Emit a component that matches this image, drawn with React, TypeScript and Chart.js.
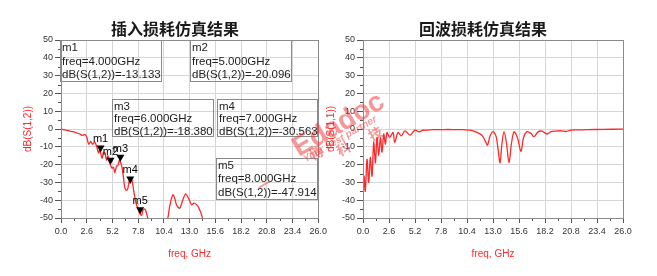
import React, { useEffect, useRef } from "react";
import { Chart, registerables } from "chart.js";

Chart.register(...registerables);

// ---------- data ----------
const freqS12 = [0, 0.5, 1.0, 1.5, 1.9, 2.2, 2.4, 2.6, 2.8, 3.0, 3.2, 3.4, 3.6, 3.8, 3.9, 4.0, 4.15, 4.3, 4.45, 4.6, 4.75, 4.9, 5.0, 5.15, 5.3, 5.45, 5.6, 5.75, 5.9, 6.0, 6.15, 6.3, 6.45, 6.6, 6.75, 6.9, 7.0, 7.15, 7.3, 7.45, 7.6, 7.8, 8.0, 8.15, 8.3, 8.5, 8.65, 8.8, 9.0, 9.5, 10.0, 10.5, 10.8, 11.0, 11.3, 11.5, 11.7, 12.0, 12.3, 12.6, 12.9, 13.2, 13.45, 13.7, 13.9, 14.1, 14.3, 14.5];
const dbS12 = [0, -0.6, -1.3, -2.0, -2.8, -3.6, -3.0, -4.5, -8.5, -7.0, -8.6, -7.2, -9.8, -13.5, -11.5, -13.133, -16.5, -13.0, -13.5, -17.5, -15.0, -18.5, -20.096, -22.0, -21.5, -24.5, -21.0, -20.5, -17.5, -18.38, -21.0, -26.5, -33.0, -34.5, -33.5, -29.0, -30.563, -28.5, -33.0, -38.0, -42.0, -45.0, -47.914, -48.5, -45.5, -45.0, -47.5, -50.5, -54, -60, -60, -56, -50, -43, -37, -39, -43, -44.5, -40, -36.4, -39, -42.6, -41.6, -42.5, -44, -46.5, -50, -54];

const freqS11 = [0, 0.1, 0.23, 0.4, 0.57, 0.73, 0.9, 1.07, 1.24, 1.4, 1.57, 1.74, 1.9, 2.07, 2.24, 2.4, 2.67, 3.0, 3.17, 3.5, 3.84, 4.2, 4.7, 5.2, 5.6, 6.0, 6.5, 7.0, 8.0, 9.0, 10.0, 10.5, 11.0, 11.5, 11.9, 12.2, 12.45, 12.7, 13.0, 13.3, 13.5, 13.7, 13.9, 14.1, 14.35, 14.6, 14.85, 15.1, 15.45, 15.8, 16.05, 16.4, 16.8, 17.1, 17.5, 17.9, 18.4, 18.8, 19.2, 19.8, 20.3, 20.8, 21.5, 22.5, 24.0, 26.0];
const dbS11 = [-44, -26.5, -35, -17, -30, -16, -26.5, -7.6, -19, -4.7, -15, -4.7, -13, -2.8, -8.5, -2, -4.7, -2, -7.6, -2, -3.8, -1, -3.4, -0.6, -1.6, -0.7, -0.6, -0.4, -0.3, -0.3, -0.4, -0.6, -1.0, -2.2, -3.5, -6.5, -9, -4, -1.5, -4, -11, -19, -8, -1.5, -8, -19, -8, -1.5, -5, -12.7, -5, -1.5, -2.5, -4.3, -1.6, -1.2, -2.8, -1.5, -1.2, -1.0, -1.4, -0.6, -0.5, -0.4, -0.2, -0.1];

const markerNames = ["m1", "m2", "m3", "m4", "m5"];
const markerFreqs = [4.0, 5.0, 6.0, 7.0, 8.0];
const markerDbs = [-13.133, -20.096, -18.38, -30.563, -47.914];

const xMin = 0;
const xMax = 26;
const xStep = 2.6;
const yMin = -50;
const yMax = 50;
const yStep = 10;

const leftTitle = "插入损耗仿真结果";
const rightTitle = "回波损耗仿真结果";
const xTitle = "freq, GHz";
const leftYTitle = "dB(S(1,2))";
const rightYTitle = "dB(S(1,1))";

// ---------- styles ----------
const RED = "rgb(255,40,40)";
const FONT = "'Liberation Sans', Arial, sans-serif";
const CJK = "'Noto Sans CJK SC', 'Noto Sans', sans-serif";

// marker annotation box layout (pixels, page coordinates)
const boxLayout = [
  { left: 60, top: 40, w: 102, h: 42, lh: 13.5 },
  { left: 190, top: 40, w: 102, h: 42, lh: 13.5 },
  { left: 112, top: 99, w: 102, h: 38, lh: 12.3 },
  { left: 217, top: 99, w: 101, h: 38, lh: 12.3 },
  { left: 216, top: 158, w: 102, h: 42, lh: 13.3 },
];

function decorPlugin(withMarkers: boolean) {
  return {
    id: "decor",
    afterDatasetsDraw(chart: any) {
      const { ctx, chartArea: a, scales } = chart;
      const x = scales.x;
      const y = scales.y;
      ctx.save();
      // minor ticks
      ctx.strokeStyle = "#555";
      ctx.lineWidth = 1;
      ctx.beginPath();
      for (let v = yMin + yStep / 2; v < yMax; v += yStep) {
        const py = Math.round(y.getPixelForValue(v)) + 0.5;
        ctx.moveTo(a.left - 3, py);
        ctx.lineTo(a.left, py);
      }
      for (let v = xMin + xStep / 2; v < xMax; v += xStep) {
        const px = Math.round(x.getPixelForValue(v)) + 0.5;
        ctx.moveTo(px, a.bottom);
        ctx.lineTo(px, a.bottom + 3);
      }
      ctx.stroke();
      // frame
      ctx.strokeStyle = "#8a8a8a";
      ctx.strokeRect(
        Math.round(a.left) + 0.5,
        Math.round(a.top) + 0.5,
        Math.round(a.right) - Math.round(a.left),
        Math.round(a.bottom) - Math.round(a.top)
      );
      if (withMarkers) {
        ctx.fillStyle = "#000";
        ctx.font = `11px ${FONT}`;
        ctx.textAlign = "center";
        ctx.textBaseline = "middle";
        markerNames.forEach((name, i) => {
          const px = x.getPixelForValue(markerFreqs[i]);
          const py = y.getPixelForValue(markerDbs[i]);
          ctx.beginPath();
          ctx.moveTo(px - 4, py - 7);
          ctx.lineTo(px + 4, py - 7);
          ctx.lineTo(px, py);
          ctx.closePath();
          ctx.fill();
          ctx.fillText(name, px, py - 13);
        });
      }
      ctx.restore();
    },
  };
}

function makeConfig(
  freqs: number[],
  dbs: number[],
  yTitle: string,
  yAxisWidth: number,
  yTitlePad: number,
  rightPad: number,
  withMarkers: boolean
): any {
  return {
    type: "line",
    data: {
      datasets: [
        {
          data: freqs.map((f, i) => ({ x: f, y: dbs[i] })),
          borderColor: RED,
          borderWidth: 1.3,
          pointRadius: 0,
          tension: 0.3,
          fill: false,
        },
      ],
    },
    options: {
      responsive: false,
      animation: false,
      devicePixelRatio: 1,
      layout: { padding: { left: 0, top: 40, right: rightPad, bottom: 0 } },
      plugins: {
        legend: { display: false },
        tooltip: { enabled: false },
        title: { display: false },
      },
      scales: {
        x: {
          type: "linear",
          min: xMin,
          max: xMax,
          ticks: {
            stepSize: xStep,
            autoSkip: false,
            maxRotation: 0,
            font: { size: 9, family: FONT },
            color: "#333",
            padding: 3,
            callback: (v: any) => Number(v).toFixed(1),
          },
          grid: { color: "#d6d6d6", tickColor: "#555", tickLength: 5 },
          border: { display: true, color: "#8a8a8a" },
          title: {
            display: true,
            text: xTitle,
            color: RED,
            font: { size: 10, family: FONT },
            padding: { top: 0, bottom: 16 },
          },
          afterFit: (s: any) => {
            s.height = 58;
          },
        },
        y: {
          type: "linear",
          min: yMin,
          max: yMax,
          ticks: {
            stepSize: yStep,
            font: { size: 9, family: FONT },
            color: "#333",
            padding: 2,
          },
          grid: { color: "#d6d6d6", tickColor: "#555", tickLength: 6 },
          border: { display: true, color: "#8a8a8a" },
          title: {
            display: true,
            text: yTitle,
            color: RED,
            font: { size: 10, family: FONT },
            padding: { top: yTitlePad, bottom: 0 },
          },
          afterFit: (s: any) => {
            s.width = yAxisWidth;
          },
        },
      },
    },
    plugins: [decorPlugin(withMarkers)],
  };
}

function ChartCanvas(props: { config: any; left: number; width: number }) {
  const ref = useRef<HTMLCanvasElement>(null);
  useEffect(() => {
    if (!ref.current) return;
    const chart = new Chart(ref.current, props.config);
    return () => chart.destroy();
  }, []);
  return (
    <canvas
      ref={ref}
      width={props.width}
      height={276}
      style={{ position: "absolute", left: props.left, top: 0, width: props.width, height: 276 }}
    />
  );
}

const titleStyle = (cx: number): React.CSSProperties => ({
  position: "absolute",
  left: cx - 100,
  width: 200,
  top: 16,
  lineHeight: "22px",
  textAlign: "center",
  font: `bold 16px ${CJK}`,
  color: "#1a1a1a",
});

const wm = (cx: number, cy: number, size: number, extra: React.CSSProperties = {}): React.CSSProperties => ({
  position: "absolute",
  left: cx,
  top: cy,
  transform: "translate(-50%, -50%) rotate(-30deg)",
  color: "rgba(240,50,50,0.5)",
  fontSize: size,
  whiteSpace: "nowrap",
  pointerEvents: "none",
  lineHeight: 1,
  ...extra,
});

export default function App() {
  const leftCfg = makeConfig(freqS12, dbS12, leftYTitle, 61, 22, 11, true);
  const rightCfg = makeConfig(freqS11, dbS11, rightYTitle, 63, 25, 34, false);
  return (
    <div style={{ position: "absolute", left: 0, top: 0, width: 657, height: 276, background: "#fff", overflow: "hidden" }}>
      <ChartCanvas config={leftCfg} left={0} width={330} />
      <ChartCanvas config={rightCfg} left={300} width={357} />
      <div style={titleStyle(175)}>{leftTitle}</div>
      <div style={titleStyle(483)}>{rightTitle}</div>
      {markerNames.map((name, i) => {
        const b = boxLayout[i];
        return (
          <div
            key={name}
            style={{
              position: "absolute",
              left: b.left,
              top: b.top,
              width: b.w,
              height: b.h,
              boxSizing: "border-box",
              border: "1px solid #8a8a8a",
              font: `11.5px ${FONT}`,
              lineHeight: `${b.lh}px`,
              color: "#222",
              paddingLeft: 1,
              whiteSpace: "pre",
              overflow: "visible",
            }}
          >
            {`${name}\nfreq=${markerFreqs[i].toFixed(3)}GHz\ndB(S(1,2))=${markerDbs[i].toFixed(3)}`}
          </div>
        );
      })}
      {/* watermark */}
      <div style={wm(338, 124, 28, { fontWeight: "bold", fontFamily: FONT })}>Edadoc</div>
      <div style={wm(340, 139, 10, { fontStyle: "italic", fontWeight: "bold", fontFamily: FONT })}>Your best partner</div>
      <div style={wm(264, 184, 14, { fontFamily: CJK, fontWeight: "bold" })}>一</div>
      <div style={wm(316, 152, 14, { fontFamily: CJK, fontWeight: "bold" })}>博</div>
      <div style={wm(343, 148, 14, { fontFamily: CJK, fontWeight: "bold" })}>科</div>
      <div style={wm(375, 133, 14, { fontFamily: CJK, fontWeight: "bold" })}>技</div>
    </div>
  );
}
